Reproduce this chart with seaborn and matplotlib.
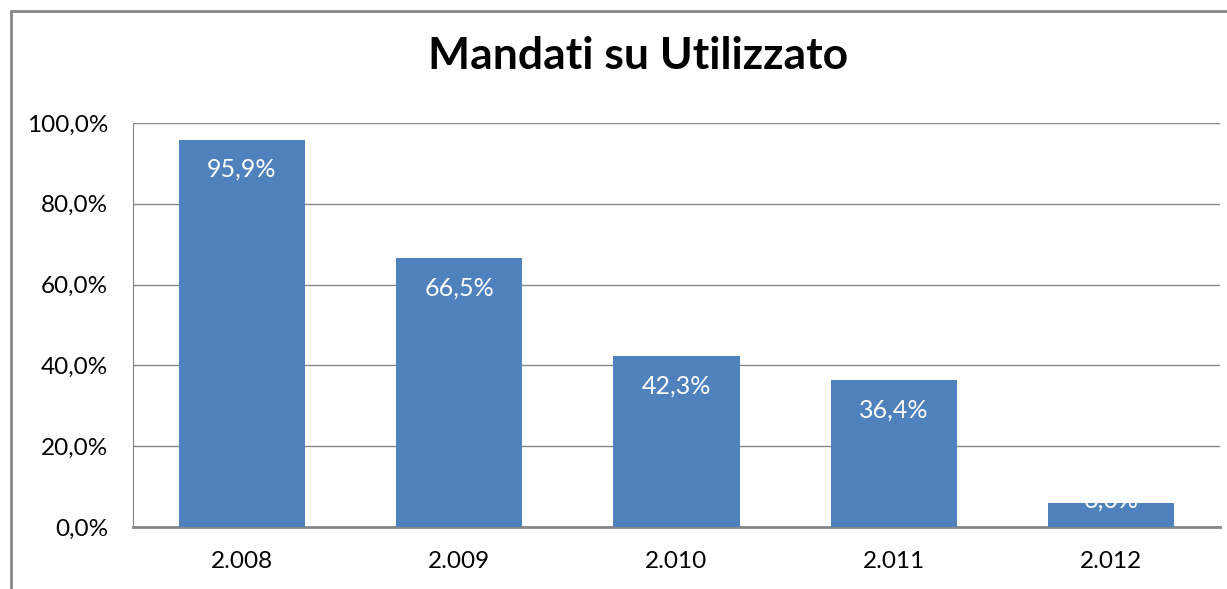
import matplotlib
matplotlib.use('Agg')
import matplotlib.pyplot as plt
import matplotlib.lines as mlines
import seaborn as sns
import pandas as pd

anni = ['2.008', '2.009', '2.010', '2.011', '2.012']
valori = [95.9, 66.5, 42.3, 36.4, 6.0]
etichette = ['95,9%', '66,5%', '42,3%', '36,4%', '6,0%']
yticks = [0, 20, 40, 60, 80, 100]
ytick_labels = ['0,0%', '20,0%', '40,0%', '60,0%', '80,0%', '100,0%']

df = pd.DataFrame({'anno': anni, 'valore': valori})

sns.set_style('white')
plt.rcParams['font.family'] = ['Lato', 'DejaVu Sans']

fig = plt.figure(figsize=(12.27, 5.89), dpi=100)
ax = fig.add_axes([133 / 1227, 62 / 589, 1087 / 1227, 404 / 589])

sns.barplot(data=df, x='anno', y='valore', color='#4F81BD', saturation=1,
            width=0.58, linewidth=0, ax=ax, zorder=3)

ax.set_ylim(0, 100)
ax.set_xlim(-0.5, 4.5)
ax.set_yticks(yticks)
ax.set_yticklabels(ytick_labels)
ax.tick_params(axis='x', labelsize=17.5, length=0, pad=17, labelcolor='black')
ax.tick_params(axis='y', labelsize=17.5, length=0, pad=18, labelcolor='black')
ax.set_xlabel('')
ax.set_ylabel('')
ax.yaxis.grid(True, color='#868686', linewidth=1)
ax.set_axisbelow(True)

for s in ['top', 'right']:
    ax.spines[s].set_visible(False)
ax.spines['left'].set_color('#868686')
ax.spines['bottom'].set_color('#868686')
ax.spines['bottom'].set_linewidth(2)

# etichette dati (bianche, dentro la barra; quella corta sborda sopra)
for i, (v, t) in enumerate(zip(valori, etichette)):
    dy = -21.5 if v > 10 else 2
    ax.annotate(t, (i, v), xytext=(0, dy), textcoords='offset points',
                ha='center', va='center', color='white', fontsize=18,
                zorder=4)

fig.text(638 / 1227, 1 - 56 / 589, 'Mandati su Utilizzato', ha='center',
         va='center', fontsize=32, fontweight='bold', color='black')

# bordo esterno del grafico
bx, by = 11 / 1227, 1 - 11 / 589
fig.add_artist(mlines.Line2D([bx, bx], [0, by], transform=fig.transFigure,
                             color='#888888', linewidth=2))
fig.add_artist(mlines.Line2D([bx, 1], [by, by], transform=fig.transFigure,
                             color='#888888', linewidth=2))

fig.savefig('out.png', dpi=100)
